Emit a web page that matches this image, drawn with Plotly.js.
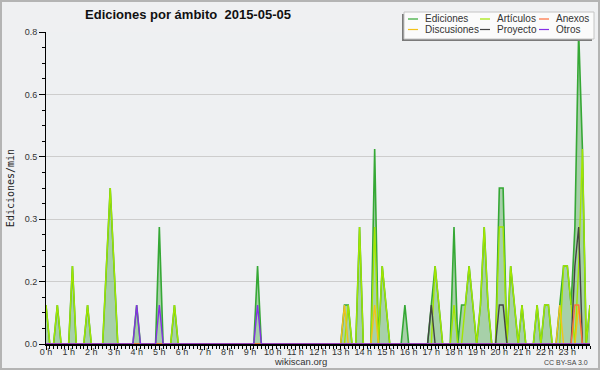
<!DOCTYPE html>
<html><head><meta charset="utf-8">
<script src="https://cdn.plot.ly/plotly-3.0.1.min.js"></script>
<style>
html,body{margin:0;padding:0;background:#eff0f2}
#wrap{position:relative;width:600px;height:370px}
#chart{width:600px;height:370px}
#frame{position:absolute;left:0;top:0;width:600px;height:370px;box-sizing:border-box;border:2px solid #b4b4b4;pointer-events:none}
</style>
</head><body><div id="wrap"><div id="chart"></div><div id="frame"></div></div>
<script>
// 10-minute slots from 0 h to 24 h (145 points), edits per minute
const ediciones = [
 0.1,0,0,0.1,0,0,   0,0.2,0,0,0,0.1,   0,0,0,0,0.2,0.4,   0.2,0,0,0,0,0,
 0.1,0,0,0,0,0,     0.3,0,0,0,0.1,0,   0,0,0,0,0,0,       0,0,0,0,0,0,
 0,0,0,0,0,0,       0,0,0.2,0,0,0,     0,0,0,0,0,0,       0,0,0,0,0,0,
 0,0,0,0,0,0,       0,0.1,0.1,0,0,0.3, 0,0,0,0.5,0,0.2,   0.1,0,0,0,0,0.1,
 0,0,0,0,0,0,       0.1,0.2,0.1,0,0,0, 0.3,0,0.1,0.1,0.2,0.1, 0,0.1,0.3,0.1,0,0,
 0.4,0.4,0,0.2,0.1,0, 0.1,0,0,0,0.1,0, 0.1,0.1,0,0,0.1,0.2, 0.2,0.1,0.3,0.8,0.5,0,
 0.1
];
const articulos = [
 0.1,0,0,0.1,0,0,   0,0.2,0,0,0,0.1,   0,0,0,0,0.2,0.4,   0.2,0,0,0,0,0,
 0,0,0,0,0,0,       0,0,0,0,0.1,0,     0,0,0,0,0,0,       0,0,0,0,0,0,
 0,0,0,0,0,0,       0,0,0,0,0,0,       0,0,0,0,0,0,       0,0,0,0,0,0,
 0,0,0,0,0,0,       0,0,0.1,0,0,0.3,   0,0,0,0.3,0,0.2,   0.1,0,0,0,0,0,
 0,0,0,0,0,0,       0,0.2,0.1,0,0,0,   0.1,0,0,0.1,0.2,0.1, 0,0.1,0.3,0.1,0,0,
 0.3,0.3,0,0.2,0.1,0, 0.1,0,0,0,0.1,0, 0.1,0.1,0,0,0,0.2, 0.2,0.1,0,0.2,0.5,0,
 0.1
];
const discusiones = [
 0,0,0,0,0,0, 0,0,0,0,0,0, 0,0,0,0,0,0, 0,0,0,0,0,0,
 0,0,0,0,0,0, 0,0,0,0,0,0, 0,0,0,0,0,0, 0,0,0,0,0,0,
 0,0,0,0,0,0, 0,0,0,0,0,0, 0,0,0,0,0,0, 0,0,0,0,0,0,
 0,0,0,0,0,0, 0,0.1,0,0,0,0, 0,0,0,0.1,0,0, 0,0,0,0,0,0,
 0,0,0,0,0,0, 0,0,0,0,0,0, 0,0,0,0,0,0, 0,0,0,0,0,0,
 0,0,0,0,0,0, 0,0,0,0,0,0, 0,0,0,0,0.1,0, 0,0,0,0.1,0,0,
 0
];
const proyecto = [
 0,0,0,0,0,0, 0,0,0,0,0,0, 0,0,0,0,0,0, 0,0,0,0,0,0,
 0,0,0,0,0,0, 0,0,0,0,0,0, 0,0,0,0,0,0, 0,0,0,0,0,0,
 0,0,0,0,0,0, 0,0,0,0,0,0, 0,0,0,0,0,0, 0,0,0,0,0,0,
 0,0,0,0,0,0, 0,0,0,0,0,0, 0,0,0,0,0,0, 0,0,0,0,0,0,
 0,0,0,0,0,0, 0.1,0,0,0,0,0, 0,0,0,0,0,0, 0,0,0,0,0,0,
 0.1,0.1,0,0,0,0, 0,0,0,0,0,0, 0,0,0,0,0,0, 0,0,0.2,0.3,0,0,
 0
];
const anexos = [
 0,0,0,0,0,0, 0,0,0,0,0,0, 0,0,0,0,0,0, 0,0,0,0,0,0,
 0,0,0,0,0,0, 0,0,0,0,0,0, 0,0,0,0,0,0, 0,0,0,0,0,0,
 0,0,0,0,0,0, 0,0,0,0,0,0, 0,0,0,0,0,0, 0,0,0,0,0,0,
 0,0,0,0,0,0, 0,0,0,0,0,0, 0,0,0,0,0,0, 0,0,0,0,0,0,
 0,0,0,0,0,0, 0,0,0,0,0,0, 0,0,0,0,0,0, 0,0,0,0,0,0,
 0,0,0,0,0,0, 0,0,0,0,0,0, 0,0,0,0,0,0, 0,0,0.1,0.1,0,0,
 0
];
const otros = [
 0,0,0,0,0,0, 0,0,0,0,0,0, 0,0,0,0,0,0, 0,0,0,0,0,0,
 0.1,0,0,0,0,0, 0.1,0,0,0,0,0, 0,0,0,0,0,0, 0,0,0,0,0,0,
 0,0,0,0,0,0, 0,0,0.1,0,0,0, 0,0,0,0,0,0, 0,0,0,0,0,0,
 0,0,0,0,0,0, 0,0,0,0,0,0, 0,0,0,0,0,0, 0,0,0,0,0,0,
 0,0,0,0,0,0, 0,0,0,0,0,0, 0,0,0,0,0,0, 0,0,0,0,0,0,
 0,0,0,0,0,0, 0,0,0,0,0,0, 0,0,0,0,0,0, 0,0,0,0,0,0,
 0
];
const seriesNames = ['Ediciones','Artículos','Discusiones','Proyecto','Anexos','Otros'];
const hourTicks = [0,1,2,3,4,5,6,7,8,9,10,11,12,13,14,15,16,17,18,19,20,21,22,23];
const hourLabels = ['0 h','1 h','2 h','3 h','4 h','5 h','6 h','7 h','8 h','9 h','10 h','11 h',
  '12 h','13 h','14 h','15 h','16 h','17 h','18 h','19 h','20 h','21 h','22 h','23 h'];
const yTickVals = [0,0.16,0.32,0.48,0.64,0.8];
const yTickText = ['0.0','0.2','0.3','0.5','0.6','0.8'];

const colors = {
  'Ediciones':'#35a835','Artículos':'#a2e600','Discusiones':'#f3c21a',
  'Proyecto':'#444444','Anexos':'#ff6f3c','Otros':'#8530e6'
};
const values = [ediciones, articulos, discusiones, proyecto, anexos, otros];

const traces = values.map((v, k) => {
  const name = seriesNames[k];
  const t = {type:'scatter', mode:'lines', name:name, y:v, x0:0, dx:1/6,
    line:{color:colors[name], width: k===0 ? 1.6 : 1.4}, showlegend:false, hoverinfo:'skip'};
  if (k === 0) { t.fill = 'tozeroy'; t.fillcolor = 'rgba(70,165,70,0.42)'; }
  return t;
});

// layout helpers: pixel -> paper
const M = {l:46, r:10, t:32, b:26};
const PW = 600 - M.l - M.r, PH = 370 - M.t - M.b;
const px = p => (p - M.l) / PW;
const py = p => (370 - M.b - p) / PH;

const shapes = [
  {type:'rect', xref:'paper', yref:'paper', x0:px(402), x1:px(592), y0:py(41), y1:py(14),
   fillcolor:'#7a7a7a', line:{width:0}, layer:'above'},
  {type:'rect', xref:'paper', yref:'paper', x0:px(404), x1:px(594), y0:py(39), y1:py(12),
   fillcolor:'#fbfbfb', line:{color:'#c4c4c4', width:1}, layer:'above'}
];
const annotations = [];
// legend grid: column order as in the reference
const legendCells = [
  ['Ediciones', 408, 19], ['Artículos', 480, 19], ['Anexos', 539, 19],
  ['Discusiones', 408, 29.5], ['Proyecto', 480, 29.5], ['Otros', 539, 29.5]
];
legendCells.forEach(([name, x, y]) => {
  shapes.push({type:'line', xref:'paper', yref:'paper', x0:px(x), x1:px(x+10), y0:py(y), y1:py(y),
    line:{color:colors[name], width:1.2}, layer:'above'});
  annotations.push({text:name, xref:'paper', yref:'paper', x:px(x+15), y:py(y), xanchor:'left', yanchor:'middle',
    showarrow:false, font:{family:'Liberation Sans, Arial, sans-serif', size:10, color:'#333'}});
});
annotations.push({text:'wikiscan.org', xref:'paper', yref:'paper', x:px(300), y:py(361.5),
  xanchor:'center', yanchor:'middle', showarrow:false,
  font:{family:'Liberation Sans, Arial, sans-serif', size:9.5, color:'#333'}});
annotations.push({text:'CC BY-SA 3.0', xref:'paper', yref:'paper', x:px(590), y:py(362.5),
  xanchor:'right', yanchor:'middle', showarrow:false,
  font:{family:'Liberation Sans, Arial, sans-serif', size:7, color:'#444'}});

const layout = {
  width:600, height:370,
  margin:{l:M.l, r:M.r, t:M.t, b:M.b, pad:0},
  paper_bgcolor:'#eff0f2', plot_bgcolor:'#eef0f2',
  showlegend:false,
  title:{text:'Ediciones por ámbito  2015-05-05', xref:'container', yref:'container',
    x:188/600, xanchor:'center', y:1-14/370, yanchor:'middle',
    font:{family:'Liberation Sans, Arial, sans-serif', size:13, weight:'bold', color:'#111'}},
  xaxis:{range:[0,24], tickmode:'array', tickvals:hourTicks, ticktext:hourLabels,
    ticks:'outside', ticklen:4, tickwidth:1, tickcolor:'#000', ticklabelstandoff:-6,
    showline:true, linecolor:'#000', linewidth:2, showgrid:false, zeroline:false,
    tickfont:{family:'Liberation Sans, Arial, sans-serif', size:9, color:'#333'},
    minor:{tickmode:'linear', tick0:0, dtick:1/6, ticks:'outside', ticklen:3, tickcolor:'#000', tickwidth:1, showgrid:false}},
  yaxis:{range:[0,0.8], tickmode:'array', tickvals:yTickVals, ticktext:yTickText,
    ticks:'outside', ticklen:6, tickwidth:1, tickcolor:'#000',
    showline:true, linecolor:'#000', linewidth:1, showgrid:true, gridcolor:'#cdcdcd', gridwidth:1,
    zeroline:false,
    tickfont:{family:'Liberation Sans, Arial, sans-serif', size:9, color:'#333'},
    minor:{tickmode:'linear', tick0:0, dtick:0.04, ticks:'outside', ticklen:3, tickcolor:'#000', tickwidth:1, showgrid:false},
    title:{text:'Ediciones/min', standoff:8,
      font:{family:'DejaVu Sans Mono, monospace', size:10, color:'#222'}}},
  shapes:shapes, annotations:annotations
};
Plotly.newPlot('chart', traces, layout, {staticPlot:true, displayModeBar:false});
</script></body></html>
